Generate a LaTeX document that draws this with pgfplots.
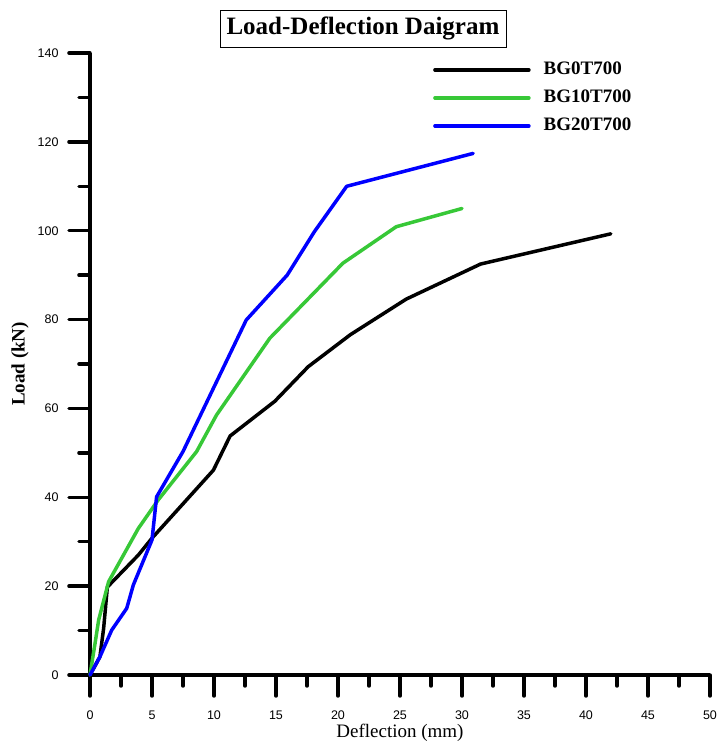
\documentclass[border=0pt]{standalone}
\usepackage{pgfplots}
\pgfplotsset{compat=1.18}
\usepackage{fontspec}
\setmainfont{Liberation Serif}
\newfontfamily\arial{Liberation Sans}

\definecolor{curvegreen}{RGB}{55,200,55}

\begin{document}
\begin{tikzpicture}
\useasboundingbox (-90pt,-67pt) rectangle (627pt,675pt);
\begin{axis}[
    at={(0pt,0pt)}, anchor=south west,
    scale only axis,
    width=620pt, height=622pt,
    xmin=0, xmax=50, ymin=0, ymax=140,
    axis x line=bottom, axis y line=left,
    axis line style={-, line width=3.5pt},
    xtick distance=5, ytick distance=20,
    minor x tick num=1, minor y tick num=1,
    tick align=outside,
    major tick length=21pt, minor tick length=11pt,
    every tick/.style={black, line width=3.5pt, line cap=round},
    /pgf/number format/assume math mode=true,
    ticklabel style={font=\arial\fontsize{12.5}{14}\selectfont},
    xticklabel style={yshift=-11pt},
    yticklabel style={xshift=-7pt},
    xlabel={Deflection (mm)},
    ylabel={\textbf{Load (kN)}},
    label style={font=\fontsize{19}{22}\selectfont},
    xlabel style={at={(axis description cs:0.5,0)}, anchor=center, yshift=-58pt},
    ylabel style={at={(axis description cs:0,0.5)}, anchor=center, yshift=70pt},
    legend style={draw=none, fill=none, at={(axis cs:27.66,129.9)}, anchor=west,
        inner sep=0pt,
        nodes={inner sep=0pt, text height=14pt, text depth=4pt},
        font=\bfseries\fontsize{19}{22}\selectfont,
        row sep=10pt,
        /tikz/every odd column/.append style={column sep=13pt}},
    legend cell align=left,
    legend image code/.code={\draw[#1, line cap=round] (0pt,0pt) -- (94pt,0pt);},
    clip=false,
]
\addplot[black, line width=3.5pt, line join=round, line cap=round] coordinates {
    (0,0) (0.8,4.1) (1.1,10.5) (1.4,19.8) (3.9,27) (5.0,30.8) (9.95,46.1)
    (11.3,53.8) (14.9,61.6) (17.6,69.4) (21.0,76.6) (25.5,84.6) (31.5,92.5) (42.0,99.3)
};
\addlegendentry{BG0T700}
\addplot[curvegreen, line width=3.5pt, line join=round, line cap=round] coordinates {
    (0,0) (0.4,7) (0.7,12.4) (1.5,21) (3.9,33) (5.5,39.4) (8.6,50.3) (10.2,58.5)
    (14.5,75.8) (20.4,92.7) (24.7,100.9) (30.0,105)
};
\addlegendentry{BG10T700}
\addplot[blue, line width=3.5pt, line join=round, line cap=round] coordinates {
    (0,0) (0.8,4.1) (1.75,10.1) (2.96,15) (3.5,20.3) (5.0,30.4) (5.37,40.1)
    (7.5,50.3) (12.6,79.9) (15.9,90) (18.1,99.8) (20.7,110) (30.9,117.4)
};
\addlegendentry{BG20T700}
\end{axis}
\node[draw, line width=0.6pt, inner xsep=6.5pt, inner ysep=7pt,
      font=\bfseries\fontsize{25}{28}\selectfont] at (273pt,646.5pt) {Load-Deflection Daigram};
\end{tikzpicture}
\end{document}
